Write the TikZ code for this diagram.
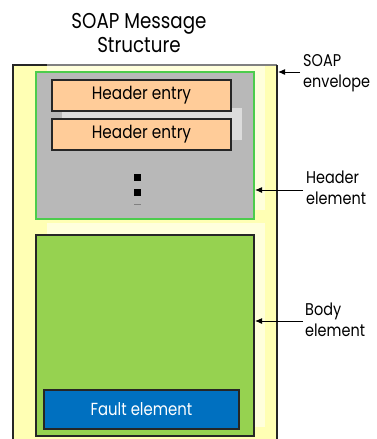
\documentclass[tikz,border=0pt]{standalone}
\usepackage{fontspec}
\setmainfont{Poppins}[FakeStretch=0.85]
\usetikzlibrary{arrows.meta}
\definecolor{envfill}{HTML}{FFFFB4}
\definecolor{envlight}{HTML}{FFFFDC}
\definecolor{hdrgray}{HTML}{B8B8B8}
\definecolor{hdrline}{HTML}{4CCC4C}
\definecolor{entryfill}{HTML}{FFCC99}
\definecolor{bodyfill}{HTML}{96D250}
\definecolor{faultfill}{HTML}{0070C0}
\definecolor{backpanel}{HTML}{DCDCDC}
\tikzset{
  box/.style={draw=black!85, line width=1.1pt},
  entrybox/.style={box, fill=entryfill, minimum width=179pt, minimum height=31pt, inner sep=0pt,
    font=\fontsize{18}{20}\selectfont},
  sidelabel/.style={align=left, anchor=west, inner sep=0pt, font=\fontsize{17}{21}\selectfont},
  pointer/.style={-{Latex[length=7pt,width=6pt]}, line width=1pt},
  dot/.style={fill=black, minimum size=7pt, inner sep=0pt}
}
\begin{document}
\begin{tikzpicture}[x=1pt, y=-1pt]
\useasboundingbox (0,0) rectangle (376,439);
% envelope
\fill[envfill] (13,65) rectangle (277,439);
\fill[envlight] (47,65) rectangle (265,210);
\fill[envlight] (47,223) rectangle (265,427);
\draw[black!85, line width=1.1pt] (13,439) -- (13,65) -- (47,65);
\draw[black!50, line width=1.1pt] (47,65) -- (277,65);
\draw[black!85, line width=1.1pt] (277,65) -- (277,439);
% header element
\node[draw=hdrline, fill=hdrgray, line width=1.1pt, minimum width=218pt, minimum height=147pt, inner sep=0pt]
  (header) at (145,145.5) {};
\fill[backpanel] (62,108) rectangle (242,140);
\node[entrybox] (e1) at (141.5,95.5) {Header entry};
\node[entrybox] (e2) at (141.5,134.5) {Header entry};
\node[dot] (d1) at (137,177) {};
\node[dot] (d2) at (137,192) {};
\draw[black!50, line width=0.6pt] (134,204) -- (141,204);
% body element
\node[box, fill=bodyfill, minimum width=218pt, minimum height=201pt, inner sep=0pt]
  (body) at (145,335.5) {};
\node[box, fill=faultfill, text=white, minimum width=195pt, minimum height=39pt, inner sep=0pt,
  font=\fontsize{17.5}{20}\selectfont] (fault) at (141.5,409.5) {Fault element};
% title
\node[align=center, font=\fontsize{21.5}{24}\selectfont, inner sep=0pt] (title) at (139,33) {SOAP Message\\Structure};
% side labels
\node[sidelabel] (lenv) at (303,73) {SOAP\\envelope};
\node[sidelabel] (lhdr) at (306,188) {Header\\element};
\node[sidelabel] (lbody) at (305,320) {Body\\element};
\coordinate (penv) at (278,72);
\coordinate (phdr) at (255,190);
\coordinate (pbody) at (255,321);
\draw[pointer] (lenv.west |- penv) ++(-3,0) -- (penv);
\draw[pointer] (lhdr.west |- phdr) ++(-3,0) -- (phdr);
\draw[pointer] (lbody.west |- pbody) ++(-2,0) -- (pbody);
\end{tikzpicture}
\end{document}
